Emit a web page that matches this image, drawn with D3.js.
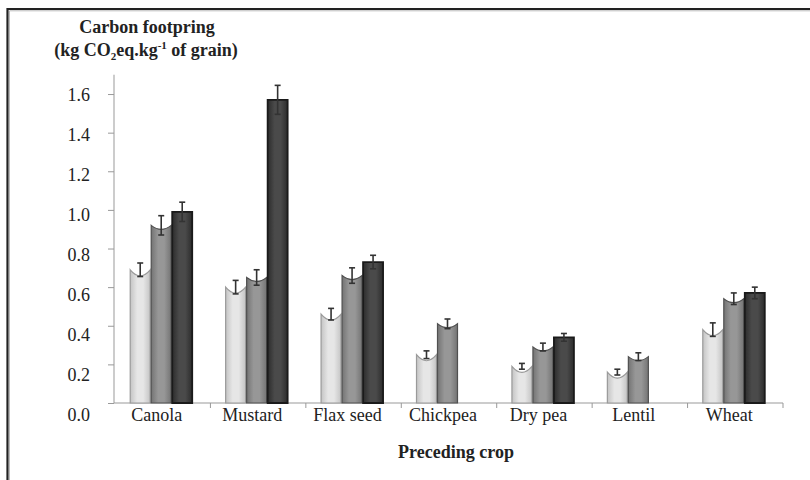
<!DOCTYPE html>
<html>
<head>
<meta charset="utf-8">
<script src="https://cdn.jsdelivr.net/npm/d3@7"></script>
<style>
  html, body { margin: 0; padding: 0; background: #fff; }
  svg { display: block; }
</style>
</head>
<body>
<svg id="chart" width="810" height="480"></svg>
<script>
const categories = ["Canola", "Mustard", "Flax seed", "Chickpea", "Dry pea", "Lentil", "Wheat"];
const seriesNames = ["s1", "s2", "s3"];
const series1 = [0.69, 0.60, 0.46, 0.25, 0.19, 0.16, 0.38];
const errors1 = [0.035, 0.035, 0.03, 0.02, 0.015, 0.015, 0.035];
const series2 = [0.92, 0.65, 0.66, 0.41, 0.29, 0.24, 0.54];
const errors2 = [0.05, 0.04, 0.04, 0.025, 0.02, 0.02, 0.03];
const series3 = [0.99, 1.57, 0.73, null, 0.34, null, 0.57];
const errors3 = [0.05, 0.075, 0.035, null, 0.02, null, 0.03];
const yTickValues = [0, 0.2, 0.4, 0.6, 0.8, 1.0, 1.2, 1.4, 1.6];

const svg = d3.select("#chart");
const font = "'Liberation Serif', 'Times New Roman', serif";

svg.append("rect").attr("width", 810).attr("height", 480).attr("fill", "#fff");

// frame (top and left edges)
svg.append("path").attr("d", "M7.5,481 V9 H811").attr("fill", "none")
  .attr("stroke", "#222").attr("stroke-width", 2.2);
svg.append("path").attr("d", "M9.5,481 V10.8 H811").attr("fill", "none")
  .attr("stroke", "#aaa").attr("stroke-width", 0.8);

const x0 = d3.scaleBand().domain(categories).range([115, 783]).padding(0);
const groupW = 63;
const x1 = d3.scaleBand().domain(seriesNames).range([0, groupW]).padding(0);
const groupOffset = (x0.bandwidth() - groupW) / 2 - 1.5;
const y = d3.scaleLinear().domain([0, 1.7]).range([403, 403 - 1.7 * 193.1]);
const yLabel = d3.scaleLinear().domain([0, 1.6]).range([415, 95]);

// gradients
const defs = svg.append("defs");
const grads = [
  {id: "g1", edge: "#c4c4c4", mid: "#e6e6e6", stroke: "#9a9a9a"},
  {id: "g2", edge: "#747474", mid: "#979797", stroke: "#505050"},
  {id: "g3", edge: "#2c2c2c", mid: "#4a4a4a", stroke: "#1a1a1a"}
];
grads.forEach(g => {
  const lg = defs.append("linearGradient").attr("id", g.id).attr("x1", "0").attr("x2", "1").attr("y1", "0").attr("y2", "0");
  lg.append("stop").attr("offset", "0").attr("stop-color", g.edge);
  lg.append("stop").attr("offset", "0.35").attr("stop-color", g.mid);
  lg.append("stop").attr("offset", "0.65").attr("stop-color", g.mid);
  lg.append("stop").attr("offset", "1").attr("stop-color", g.edge);
});
const dips = [6, 4, 0];

// y axis
const yAxis = d3.axisLeft(y).tickValues(yTickValues).tickSize(6).tickFormat("");
const gy = svg.append("g").attr("transform", "translate(114,0)").call(yAxis);
gy.select(".domain").attr("stroke", "#999").attr("d", `M0,${y(1.7)}V${y(0)}`);
gy.selectAll(".tick line").attr("stroke", "#999");

const yLabAxis = d3.axisLeft(yLabel).tickValues(yTickValues).tickSize(0).tickPadding(0).tickFormat(d3.format(".1f"));
const gyl = svg.append("g").attr("transform", "translate(90,0)").call(yLabAxis);
gyl.select(".domain").remove();
gyl.selectAll(".tick text").attr("font-family", font).attr("font-size", 18).attr("fill", "#222");

// x axis
const gx = svg.append("g").attr("transform", `translate(0,${y(0)})`);
gx.append("line").attr("x1", 114).attr("x2", x0.range()[1]).attr("stroke", "#999");
const boundaries = categories.map(c => x0(c)).concat([x0.range()[1]]);
gx.selectAll("line.bt").data(boundaries.slice(1)).join("line").attr("class", "bt")
  .attr("x1", d => d).attr("x2", d => d).attr("y1", 0).attr("y2", 5).attr("stroke", "#999");
const xAxis = d3.axisBottom(x0).tickSize(0).tickPadding(0);
const gxl = svg.append("g").attr("transform", `translate(-6,${y(0)})`).call(xAxis);
gxl.select(".domain").remove();
gxl.selectAll(".tick text").attr("font-family", font).attr("font-size", 18).attr("fill", "#222")
  .attr("dy", null).attr("y", 18);

// bars
const allSeries = [
  {vals: series1, errs: series1.map((_, i) => errors1[i])},
  {vals: series2, errs: errors2},
  {vals: series3, errs: errors3}
];
const barData = [];
categories.forEach((c, i) => {
  allSeries.forEach((s, k) => {
    if (s.vals[i] != null) barData.push({cat: c, k, v: s.vals[i], e: s.errs[i]});
  });
});

const bars = svg.append("g");
bars.selectAll("path.bar").data(barData).join("path").attr("class", "bar")
  .attr("d", d => {
    const xl = x0(d.cat) + groupOffset + x1(seriesNames[d.k]);
    const w = x1.bandwidth();
    const xr = xl + w;
    const yt = y(d.v), yb = y(0);
    const dip = dips[d.k];
    return `M${xl + 0.5},${yb}V${yt}Q${(xl + xr) / 2},${yt + dip * 2} ${xr - 0.5},${yt}V${yb}Z`;
  })
  .attr("fill", d => `url(#${grads[d.k].id})`)
  .attr("stroke", d => grads[d.k].stroke)
  .attr("stroke-width", d => d.k === 2 ? 1.8 : 1.2);

// error bars
const eb = svg.append("g").attr("stroke", "#333").attr("stroke-width", 1.6);
barData.forEach(d => {
  const cx = x0(d.cat) + groupOffset + x1(seriesNames[d.k]) + x1.bandwidth() / 2;
  const yt = y(d.v + d.e), yb = y(d.v - d.e);
  eb.append("line").attr("x1", cx).attr("x2", cx).attr("y1", yt).attr("y2", yb);
  eb.append("line").attr("x1", cx - 3).attr("x2", cx + 3).attr("y1", yt).attr("y2", yt);
  eb.append("line").attr("x1", cx - 3).attr("x2", cx + 3).attr("y1", yb).attr("y2", yb);
});

// titles
const t = svg.append("text").attr("font-family", font).attr("font-weight", "bold")
  .attr("font-size", 18).attr("fill", "#222").attr("text-anchor", "middle");
t.append("tspan").attr("x", 147).attr("y", 33).text("Carbon footpring");
const t2 = svg.append("text").attr("font-family", font).attr("font-weight", "bold")
  .attr("font-size", 18).attr("fill", "#222").attr("text-anchor", "middle")
  .attr("x", 146).attr("y", 56);
t2.append("tspan").text("(kg CO");
t2.append("tspan").attr("font-size", 11).attr("dy", 4).text("2");
t2.append("tspan").attr("dy", -4).text("eq.kg");
t2.append("tspan").attr("font-size", 11).attr("dy", -7).text("-1");
t2.append("tspan").attr("dy", 7).text(" of grain)");

svg.append("text").attr("font-family", font).attr("font-weight", "bold").attr("font-size", 18)
  .attr("fill", "#222").attr("text-anchor", "middle").attr("x", 456).attr("y", 458)
  .text("Preceding crop");
</script>
</body>
</html>
